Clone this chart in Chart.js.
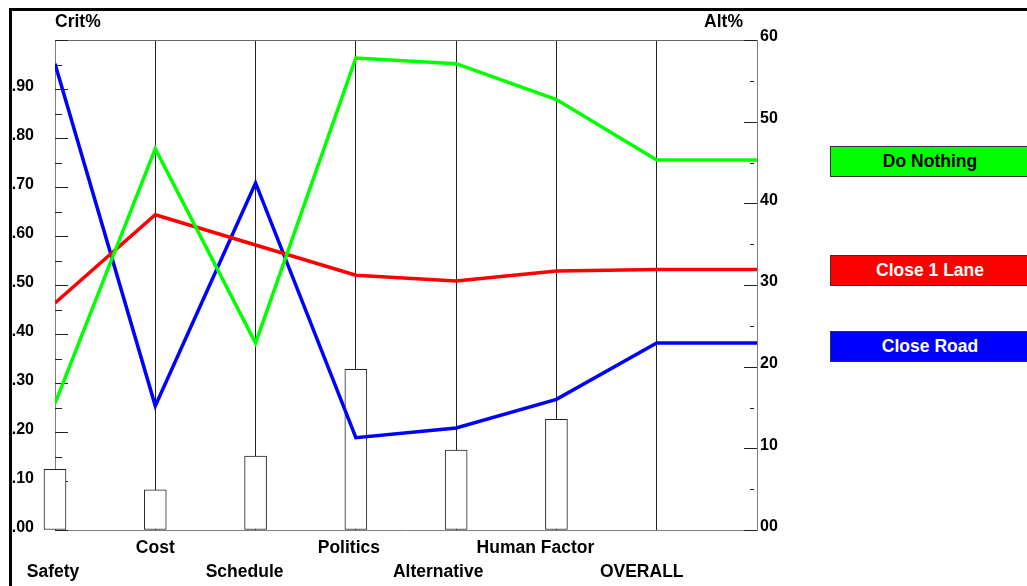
<!DOCTYPE html>
<html lang="en">
<head>
    <meta charset="UTF-8" />
    <title>Crit% / Alt% chart</title>
    <script src="https://cdn.jsdelivr.net/npm/chart.js"></script>
    <style>
        body { margin: 0; background: #fff; overflow: hidden; }
        #wrap { position: relative; width: 1027px; height: 586px; }
        .key {
            position: absolute; left: 830px; width: 200px; height: 31px;
            box-sizing: border-box; border: 1px solid #333;
            font: bold 17.5px "Liberation Sans", Arial, sans-serif;
            text-align: center; line-height: 29px;
        }
    </style>
</head>
<body>
    <div id="wrap">
        <canvas id="chart"></canvas>
    </div>

    <script>
        // criteria along the bottom
        const categories = ['Safety', 'Cost', 'Schedule', 'Politics', 'Alternative', 'Human Factor', 'OVERALL'];
        // criterion weights (left axis, bars) - OVERALL has no bar
        const critWeights = [0.124, 0.082, 0.151, 0.328, 0.163, 0.226];
        // alternative scores (right axis, %)
        const seriesNames = ['Do Nothing', 'Close 1 Lane', 'Close Road'];
        const doNothing = [15.5, 46.7, 22.9, 57.8, 57.1, 52.7, 45.3];
        const close1Lane = [27.8, 38.6, 34.9, 31.2, 30.5, 31.7, 31.9];
        const closeRoad = [57.1, 15.2, 42.5, 11.3, 12.5, 16.0, 22.9];
        const seriesColors = ['#00ff00', '#ff0000', '#0000ff'];
        const keyText = ['#000', '#fff', '#fff'];
        // tick labels
        const critTickLabels = ['.00', '.10', '.20', '.30', '.40', '.50', '.60', '.70', '.80', '.90'];
        const altTickLabels = ['00', '10', '20', '30', '40', '50', '60'];

        const FONT = '"Liberation Sans", Arial, sans-serif';

        // line goes on to the right axis at the OVERALL value
        function toPoints(vals) {
            const pts = vals.map((v, i) => ({ x: i, y: v }));
            pts.push({ x: categories.length, y: vals[vals.length - 1] });
            return pts;
        }

        const seriesData = [doNothing, close1Lane, closeRoad];
        const lineSets = seriesData.map((vals, k) => ({
            type: 'line',
            label: seriesNames[k],
            data: toPoints(vals),
            borderColor: seriesColors[k],
            borderWidth: 3.5,
            pointRadius: 0,
            tension: 0,
            yAxisID: 'y1',
            order: 0
        }));

        const barSet = {
            type: 'bar',
            label: 'Crit%',
            data: critWeights.map((v, i) => ({ x: i, y: v })),
            backgroundColor: '#fff',
            borderColor: '#222',
            borderWidth: 1,
            borderSkipped: false,
            barThickness: 22,
            yAxisID: 'y',
            clip: false,
            order: 1
        };

        // frame, tick marks, titles and staggered category labels
        const decor = {
            id: 'decor',
            beforeDatasetsDraw(chart) {
                const ctx = chart.ctx;
                const a = chart.chartArea;
                const y = chart.scales.y, y1 = chart.scales.y1;
                ctx.save();
                ctx.strokeStyle = '#666';
                ctx.lineWidth = 1;
                ctx.beginPath();
                ctx.moveTo(a.left, a.top + 0.5);
                ctx.lineTo(a.right, a.top + 0.5);
                ctx.stroke();
                ctx.strokeStyle = '#222';
                y.ticks.forEach((t, i) => {
                    const py = Math.round(y.getPixelForValue(t.value)) + 0.5;
                    const len = (i % 2 === 0) ? 13 : 7;
                    ctx.beginPath();
                    ctx.moveTo(a.left, py);
                    ctx.lineTo(a.left + len, py);
                    ctx.stroke();
                });
                y1.ticks.forEach((t, i) => {
                    const py = Math.round(y1.getPixelForValue(t.value)) + 0.5;
                    ctx.beginPath();
                    if (i % 2 === 0) {
                        ctx.moveTo(a.right - 13, py);
                        ctx.lineTo(a.right, py);
                    } else {
                        ctx.moveTo(a.right - 7, py);
                        ctx.lineTo(a.right - 3, py);
                    }
                    ctx.stroke();
                });
                ctx.restore();
            },
            afterDraw(chart) {
                const ctx = chart.ctx;
                const a = chart.chartArea;
                const x = chart.scales.x;
                ctx.save();
                // outer frame (top and left only)
                ctx.fillStyle = '#000';
                ctx.fillRect(9, 8, chart.width, 3);
                ctx.fillRect(9, 8, 3, chart.height);

                ctx.font = 'bold 17.5px ' + FONT;
                ctx.textBaseline = 'alphabetic';
                ctx.textAlign = 'left';
                ctx.fillText('Crit%', a.left, 27);
                ctx.textAlign = 'right';
                ctx.fillText('Alt%', a.right - 14, 27);

                const shift = [-2, 0, -11, -7, -18, -21, -15];
                ctx.textAlign = 'center';
                categories.forEach((c, i) => {
                    const px = x.getPixelForValue(i) + shift[i];
                    const py = (i % 2 === 0) ? a.bottom + 47 : a.bottom + 23;
                    ctx.fillText(c, px, py);
                });
                ctx.restore();
            }
        };

        const chart = new Chart(document.getElementById('chart'), {
            type: 'line',
            data: { datasets: [barSet, ...lineSets] },
            options: {
                responsive: true,
                maintainAspectRatio: false,
                animation: false,
                layout: { padding: { left: 10, top: 40, right: 0, bottom: 0 } },
                plugins: { legend: { display: false }, tooltip: { enabled: false } },
                scales: {
                    x: {
                        type: 'linear',
                        min: 0,
                        max: categories.length,
                        offset: false,
                        ticks: { display: false, stepSize: 1 },
                        grid: {
                            offset: false,
                            drawTicks: false,
                            color: c => (c.index > 0 && c.index < categories.length) ? '#222' : 'rgba(0,0,0,0)',
                            lineWidth: 1
                        },
                        border: { display: true, color: '#808080' },
                        afterFit: s => { s.height = 56; }
                    },
                    y: {
                        position: 'left',
                        min: 0,
                        max: 1,
                        ticks: {
                            stepSize: 0.05,
                            padding: 21,
                            labelOffset: -2,
                            color: '#000',
                            font: { family: FONT, size: 16, weight: 'bold' },
                            callback: function (v) {
                                const k = Math.round(v * 20);
                                if (k % 2 !== 0) return '';
                                return critTickLabels[k / 2] || '';
                            }
                        },
                        grid: { drawOnChartArea: false, drawTicks: false },
                        border: { display: true, color: '#808080' },
                        afterFit: s => { s.width = 45; }
                    },
                    y1: {
                        position: 'right',
                        min: 0,
                        max: 60,
                        ticks: {
                            stepSize: 5,
                            padding: 3,
                            labelOffset: -3,
                            color: '#000',
                            font: { family: FONT, size: 16, weight: 'bold' },
                            callback: function (v) {
                                const k = Math.round(v / 5);
                                if (k % 2 !== 0) return '';
                                return altTickLabels[k / 2] || '';
                            }
                        },
                        grid: { drawOnChartArea: false, drawTicks: false },
                        border: { display: true, color: '#808080' },
                        afterFit: s => { s.width = 270; }
                    }
                }
            },
            plugins: [decor]
        });

        // legend keys on the right
        const keyTops = [146, 255, 331];
        seriesNames.forEach((name, k) => {
            const d = document.createElement('div');
            d.className = 'key';
            d.style.top = keyTops[k] + 'px';
            d.style.background = seriesColors[k];
            d.style.color = keyText[k];
            d.textContent = name;
            document.getElementById('wrap').appendChild(d);
        });
    </script>
</body>
</html>
